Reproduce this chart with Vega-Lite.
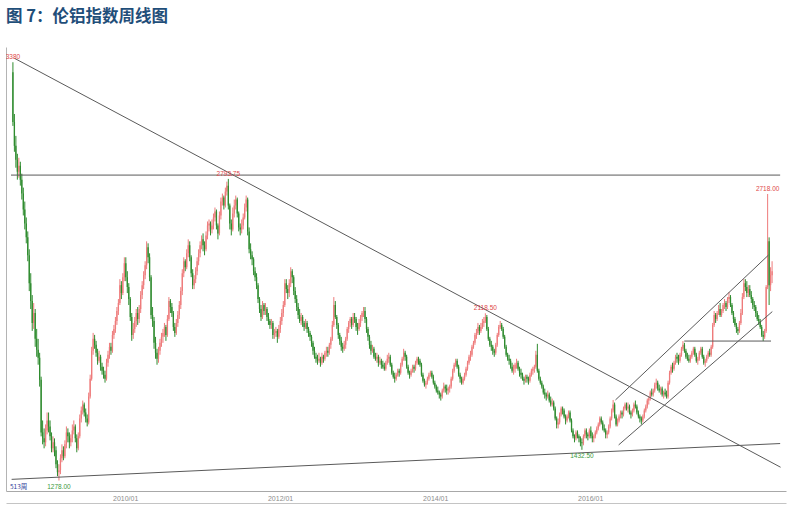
{
"$schema":"https://vega.github.io/schema/vega-lite/v6.json",
"width":780,"height":444,
"autosize":{"type":"none"},
"padding":{"left":6,"top":47,"right":7,"bottom":20},
"background":"white",
"title":{"text":"图 7：伦铝指数周线图","anchor":"start","frame":"group","fontSize":16.5,"fontWeight":"bold","color":"#1F4E79","font":"Noto Sans CJK SC","offset":22},
"config":{"view":{"stroke":null},"axis":{"grid":false}},
"resolve":{"axis":{"x":"independent"}},
"datasets":{
"k":[
{"d":"2008-07-21","o":3330,"h":3380,"l":3060,"c":3080},
{"d":"2008-07-28","o":3080,"h":3120,"l":2930,"c":2960},
{"d":"2008-08-04","o":2960,"h":3010,"l":2850,"c":2890},
{"d":"2008-08-11","o":2890,"h":2920,"l":2790,"c":2830},
{"d":"2008-08-18","o":2830,"h":2900,"l":2800,"c":2860},
{"d":"2008-08-25","o":2860,"h":2880,"l":2760,"c":2790},
{"d":"2008-09-01","o":2790,"h":2820,"l":2690,"c":2720},
{"d":"2008-09-08","o":2720,"h":2750,"l":2610,"c":2640},
{"d":"2008-09-15","o":2640,"h":2680,"l":2540,"c":2570},
{"d":"2008-09-22","o":2570,"h":2600,"l":2470,"c":2500},
{"d":"2008-09-29","o":2500,"h":2530,"l":2380,"c":2410},
{"d":"2008-10-06","o":2410,"h":2440,"l":2230,"c":2270},
{"d":"2008-10-13","o":2270,"h":2320,"l":2140,"c":2180},
{"d":"2008-10-20","o":2180,"h":2210,"l":2030,"c":2070},
{"d":"2008-10-27","o":2070,"h":2170,"l":2040,"c":2120},
{"d":"2008-11-03","o":2120,"h":2140,"l":1950,"c":1990},
{"d":"2008-11-10","o":1990,"h":2040,"l":1900,"c":1935},
{"d":"2008-11-17","o":1935,"h":1990,"l":1860,"c":1895},
{"d":"2008-11-24","o":1895,"h":1920,"l":1750,"c":1785},
{"d":"2008-12-01","o":1785,"h":1800,"l":1500,"c":1520},
{"d":"2008-12-08","o":1520,"h":1580,"l":1460,"c":1490},
{"d":"2008-12-15","o":1490,"h":1540,"l":1440,"c":1470},
{"d":"2008-12-22","o":1470,"h":1560,"l":1450,"c":1530},
{"d":"2008-12-29","o":1530,"h":1620,"l":1510,"c":1580},
{"d":"2009-01-05","o":1580,"h":1620,"l":1520,"c":1550},
{"d":"2009-01-12","o":1550,"h":1580,"l":1480,"c":1500},
{"d":"2009-01-19","o":1500,"h":1520,"l":1420,"c":1440},
{"d":"2009-01-26","o":1440,"h":1500,"l":1420,"c":1470},
{"d":"2009-02-02","o":1470,"h":1490,"l":1400,"c":1430},
{"d":"2009-02-09","o":1430,"h":1450,"l":1340,"c":1360},
{"d":"2009-02-16","o":1360,"h":1380,"l":1300,"c":1320},
{"d":"2009-02-23","o":1320,"h":1360,"l":1278,"c":1330},
{"d":"2009-03-02","o":1330,"h":1410,"l":1310,"c":1390},
{"d":"2009-03-09","o":1390,"h":1460,"l":1370,"c":1430},
{"d":"2009-03-16","o":1430,"h":1450,"l":1380,"c":1400},
{"d":"2009-03-23","o":1400,"h":1480,"l":1390,"c":1460},
{"d":"2009-03-30","o":1460,"h":1550,"l":1440,"c":1520},
{"d":"2009-04-06","o":1520,"h":1540,"l":1470,"c":1500},
{"d":"2009-04-13","o":1500,"h":1520,"l":1440,"c":1470},
{"d":"2009-04-20","o":1470,"h":1510,"l":1450,"c":1490},
{"d":"2009-04-27","o":1490,"h":1560,"l":1470,"c":1530},
{"d":"2009-05-04","o":1530,"h":1580,"l":1510,"c":1550},
{"d":"2009-05-11","o":1550,"h":1560,"l":1470,"c":1490},
{"d":"2009-05-18","o":1490,"h":1510,"l":1420,"c":1440},
{"d":"2009-05-25","o":1440,"h":1520,"l":1430,"c":1500},
{"d":"2009-06-01","o":1500,"h":1610,"l":1490,"c":1590},
{"d":"2009-06-08","o":1590,"h":1650,"l":1570,"c":1630},
{"d":"2009-06-15","o":1630,"h":1680,"l":1610,"c":1660},
{"d":"2009-06-22","o":1660,"h":1670,"l":1600,"c":1620},
{"d":"2009-06-29","o":1620,"h":1640,"l":1570,"c":1590},
{"d":"2009-07-06","o":1590,"h":1610,"l":1550,"c":1570},
{"d":"2009-07-13","o":1570,"h":1720,"l":1560,"c":1700},
{"d":"2009-07-20","o":1700,"h":1810,"l":1690,"c":1790},
{"d":"2009-07-27","o":1790,"h":1950,"l":1780,"c":1930},
{"d":"2009-08-03","o":1930,"h":2020,"l":1910,"c":1990},
{"d":"2009-08-10","o":1990,"h":2010,"l":1940,"c":1960},
{"d":"2009-08-17","o":1960,"h":1980,"l":1900,"c":1920},
{"d":"2009-08-24","o":1920,"h":1940,"l":1860,"c":1880},
{"d":"2009-08-31","o":1880,"h":1930,"l":1870,"c":1900},
{"d":"2009-09-07","o":1900,"h":1910,"l":1830,"c":1850},
{"d":"2009-09-14","o":1850,"h":1870,"l":1810,"c":1830},
{"d":"2009-09-21","o":1830,"h":1850,"l":1790,"c":1810},
{"d":"2009-09-28","o":1810,"h":1830,"l":1770,"c":1790},
{"d":"2009-10-05","o":1790,"h":1890,"l":1780,"c":1870},
{"d":"2009-10-12","o":1870,"h":1930,"l":1850,"c":1910},
{"d":"2009-10-19","o":1910,"h":1970,"l":1890,"c":1950},
{"d":"2009-10-26","o":1950,"h":1970,"l":1910,"c":1930},
{"d":"2009-11-02","o":1930,"h":2030,"l":1920,"c":2010},
{"d":"2009-11-09","o":2010,"h":2060,"l":1990,"c":2040},
{"d":"2009-11-16","o":2040,"h":2100,"l":2020,"c":2080},
{"d":"2009-11-23","o":2080,"h":2150,"l":2060,"c":2130},
{"d":"2009-11-30","o":2130,"h":2190,"l":2110,"c":2170},
{"d":"2009-12-07","o":2170,"h":2290,"l":2160,"c":2260},
{"d":"2009-12-14","o":2260,"h":2280,"l":2190,"c":2220},
{"d":"2009-12-21","o":2220,"h":2320,"l":2210,"c":2300},
{"d":"2009-12-28","o":2300,"h":2400,"l":2280,"c":2370},
{"d":"2010-01-04","o":2370,"h":2400,"l":2280,"c":2300},
{"d":"2010-01-11","o":2300,"h":2330,"l":2220,"c":2250},
{"d":"2010-01-18","o":2250,"h":2270,"l":2160,"c":2190},
{"d":"2010-01-25","o":2190,"h":2200,"l":2080,"c":2100},
{"d":"2010-02-01","o":2100,"h":2120,"l":1980,"c":2010},
{"d":"2010-02-08","o":2010,"h":2070,"l":1990,"c":2040},
{"d":"2010-02-15","o":2040,"h":2100,"l":2020,"c":2080},
{"d":"2010-02-22","o":2080,"h":2140,"l":2050,"c":2120},
{"d":"2010-03-01","o":2120,"h":2150,"l":2060,"c":2090},
{"d":"2010-03-08","o":2090,"h":2160,"l":2070,"c":2140},
{"d":"2010-03-15","o":2140,"h":2230,"l":2120,"c":2210},
{"d":"2010-03-22","o":2210,"h":2280,"l":2190,"c":2260},
{"d":"2010-03-29","o":2260,"h":2330,"l":2240,"c":2310},
{"d":"2010-04-05","o":2310,"h":2380,"l":2290,"c":2360},
{"d":"2010-04-12","o":2360,"h":2480,"l":2340,"c":2450},
{"d":"2010-04-19","o":2450,"h":2470,"l":2370,"c":2400},
{"d":"2010-04-26","o":2400,"h":2420,"l":2280,"c":2300},
{"d":"2010-05-03","o":2300,"h":2310,"l":2090,"c":2110},
{"d":"2010-05-10","o":2110,"h":2150,"l":2050,"c":2080},
{"d":"2010-05-17","o":2080,"h":2100,"l":1940,"c":1970},
{"d":"2010-05-24","o":1970,"h":2000,"l":1890,"c":1920},
{"d":"2010-05-31","o":1920,"h":1940,"l":1860,"c":1890},
{"d":"2010-06-07","o":1890,"h":1950,"l":1870,"c":1930},
{"d":"2010-06-14","o":1930,"h":1990,"l":1910,"c":1970},
{"d":"2010-06-21","o":1970,"h":2020,"l":1950,"c":2000},
{"d":"2010-06-28","o":2000,"h":2040,"l":1970,"c":2020},
{"d":"2010-07-05","o":2020,"h":2070,"l":2000,"c":2050},
{"d":"2010-07-12","o":2050,"h":2060,"l":1980,"c":2010},
{"d":"2010-07-19","o":2010,"h":2110,"l":2000,"c":2090},
{"d":"2010-07-26","o":2090,"h":2200,"l":2080,"c":2180},
{"d":"2010-08-02","o":2180,"h":2190,"l":2120,"c":2150},
{"d":"2010-08-09","o":2150,"h":2170,"l":2100,"c":2120},
{"d":"2010-08-16","o":2120,"h":2130,"l":2030,"c":2050},
{"d":"2010-08-23","o":2050,"h":2070,"l":2000,"c":2020},
{"d":"2010-08-30","o":2020,"h":2090,"l":2010,"c":2070},
{"d":"2010-09-06","o":2070,"h":2130,"l":2050,"c":2110},
{"d":"2010-09-13","o":2110,"h":2180,"l":2090,"c":2160},
{"d":"2010-09-20","o":2160,"h":2250,"l":2140,"c":2230},
{"d":"2010-09-27","o":2230,"h":2340,"l":2210,"c":2320},
{"d":"2010-10-04","o":2320,"h":2400,"l":2300,"c":2380},
{"d":"2010-10-11","o":2380,"h":2390,"l":2330,"c":2350},
{"d":"2010-10-18","o":2350,"h":2440,"l":2340,"c":2420},
{"d":"2010-10-25","o":2420,"h":2490,"l":2400,"c":2460},
{"d":"2010-11-01","o":2460,"h":2480,"l":2380,"c":2400},
{"d":"2010-11-08","o":2400,"h":2410,"l":2300,"c":2320},
{"d":"2010-11-15","o":2320,"h":2340,"l":2240,"c":2260},
{"d":"2010-11-22","o":2260,"h":2310,"l":2240,"c":2290},
{"d":"2010-11-29","o":2290,"h":2350,"l":2270,"c":2330},
{"d":"2010-12-06","o":2330,"h":2400,"l":2310,"c":2380},
{"d":"2010-12-13","o":2380,"h":2440,"l":2360,"c":2420},
{"d":"2010-12-20","o":2420,"h":2480,"l":2400,"c":2460},
{"d":"2010-12-27","o":2460,"h":2510,"l":2440,"c":2490},
{"d":"2011-01-03","o":2490,"h":2520,"l":2430,"c":2460},
{"d":"2011-01-10","o":2460,"h":2480,"l":2410,"c":2440},
{"d":"2011-01-17","o":2440,"h":2530,"l":2430,"c":2510},
{"d":"2011-01-24","o":2510,"h":2580,"l":2490,"c":2560},
{"d":"2011-01-31","o":2560,"h":2590,"l":2530,"c":2570},
{"d":"2011-02-07","o":2570,"h":2580,"l":2510,"c":2540},
{"d":"2011-02-14","o":2540,"h":2590,"l":2520,"c":2560},
{"d":"2011-02-21","o":2560,"h":2620,"l":2540,"c":2600},
{"d":"2011-02-28","o":2600,"h":2650,"l":2580,"c":2630},
{"d":"2011-03-07","o":2630,"h":2640,"l":2540,"c":2560},
{"d":"2011-03-14","o":2560,"h":2570,"l":2490,"c":2520},
{"d":"2011-03-21","o":2520,"h":2630,"l":2510,"c":2610},
{"d":"2011-03-28","o":2610,"h":2700,"l":2590,"c":2680},
{"d":"2011-04-04","o":2680,"h":2720,"l":2660,"c":2700},
{"d":"2011-04-11","o":2700,"h":2710,"l":2640,"c":2660},
{"d":"2011-04-18","o":2660,"h":2750,"l":2650,"c":2730},
{"d":"2011-04-25","o":2730,"h":2780,"l":2710,"c":2760},
{"d":"2011-05-02","o":2760,"h":2793.75,"l":2640,"c":2660},
{"d":"2011-05-09","o":2660,"h":2670,"l":2540,"c":2570},
{"d":"2011-05-16","o":2570,"h":2590,"l":2510,"c":2540},
{"d":"2011-05-23","o":2540,"h":2650,"l":2530,"c":2620},
{"d":"2011-05-30","o":2620,"h":2690,"l":2600,"c":2660},
{"d":"2011-06-06","o":2660,"h":2710,"l":2640,"c":2690},
{"d":"2011-06-13","o":2690,"h":2700,"l":2600,"c":2620},
{"d":"2011-06-20","o":2620,"h":2630,"l":2530,"c":2550},
{"d":"2011-06-27","o":2550,"h":2570,"l":2510,"c":2540},
{"d":"2011-07-04","o":2540,"h":2590,"l":2520,"c":2560},
{"d":"2011-07-11","o":2560,"h":2620,"l":2540,"c":2600},
{"d":"2011-07-18","o":2600,"h":2670,"l":2590,"c":2650},
{"d":"2011-07-25","o":2650,"h":2710,"l":2630,"c":2690},
{"d":"2011-08-01","o":2690,"h":2700,"l":2510,"c":2530},
{"d":"2011-08-08","o":2530,"h":2550,"l":2420,"c":2440},
{"d":"2011-08-15","o":2440,"h":2470,"l":2390,"c":2410},
{"d":"2011-08-22","o":2410,"h":2430,"l":2360,"c":2390},
{"d":"2011-08-29","o":2390,"h":2400,"l":2310,"c":2330},
{"d":"2011-09-05","o":2330,"h":2350,"l":2280,"c":2300},
{"d":"2011-09-12","o":2300,"h":2320,"l":2240,"c":2260},
{"d":"2011-09-19","o":2260,"h":2270,"l":2170,"c":2190},
{"d":"2011-09-26","o":2190,"h":2200,"l":2120,"c":2140},
{"d":"2011-10-03","o":2140,"h":2160,"l":2080,"c":2100},
{"d":"2011-10-10","o":2100,"h":2180,"l":2090,"c":2160},
{"d":"2011-10-17","o":2160,"h":2170,"l":2110,"c":2130},
{"d":"2011-10-24","o":2130,"h":2170,"l":2110,"c":2140},
{"d":"2011-10-31","o":2140,"h":2150,"l":2080,"c":2100},
{"d":"2011-11-07","o":2100,"h":2120,"l":2060,"c":2080},
{"d":"2011-11-14","o":2080,"h":2090,"l":2040,"c":2060},
{"d":"2011-11-21","o":2060,"h":2090,"l":2040,"c":2070},
{"d":"2011-11-28","o":2070,"h":2080,"l":1990,"c":2010},
{"d":"2011-12-05","o":2010,"h":2040,"l":1990,"c":2020},
{"d":"2011-12-12","o":2020,"h":2050,"l":2000,"c":2030},
{"d":"2011-12-19","o":2030,"h":2040,"l":1970,"c":2000},
{"d":"2011-12-26","o":2000,"h":2060,"l":1990,"c":2040},
{"d":"2012-01-02","o":2040,"h":2100,"l":2020,"c":2080},
{"d":"2012-01-09","o":2080,"h":2140,"l":2060,"c":2120},
{"d":"2012-01-16","o":2120,"h":2180,"l":2100,"c":2160},
{"d":"2012-01-23","o":2160,"h":2290,"l":2150,"c":2270},
{"d":"2012-01-30","o":2270,"h":2290,"l":2220,"c":2240},
{"d":"2012-02-06","o":2240,"h":2260,"l":2190,"c":2220},
{"d":"2012-02-13","o":2220,"h":2290,"l":2200,"c":2270},
{"d":"2012-02-20","o":2270,"h":2350,"l":2250,"c":2330},
{"d":"2012-02-27","o":2330,"h":2340,"l":2270,"c":2300},
{"d":"2012-03-05","o":2300,"h":2310,"l":2210,"c":2230},
{"d":"2012-03-12","o":2230,"h":2250,"l":2170,"c":2190},
{"d":"2012-03-19","o":2190,"h":2210,"l":2130,"c":2150},
{"d":"2012-03-26","o":2150,"h":2170,"l":2090,"c":2110},
{"d":"2012-04-02","o":2110,"h":2140,"l":2070,"c":2080},
{"d":"2012-04-09","o":2080,"h":2120,"l":2060,"c":2100},
{"d":"2012-04-16","o":2100,"h":2110,"l":2050,"c":2070},
{"d":"2012-04-23","o":2070,"h":2080,"l":2030,"c":2050},
{"d":"2012-04-30","o":2050,"h":2090,"l":2040,"c":2070},
{"d":"2012-05-07","o":2070,"h":2080,"l":2020,"c":2040},
{"d":"2012-05-14","o":2040,"h":2050,"l":2000,"c":2020},
{"d":"2012-05-21","o":2020,"h":2030,"l":1980,"c":2000},
{"d":"2012-05-28","o":2000,"h":2010,"l":1950,"c":1970},
{"d":"2012-06-04","o":1970,"h":1980,"l":1910,"c":1930},
{"d":"2012-06-11","o":1930,"h":1950,"l":1890,"c":1900},
{"d":"2012-06-18","o":1900,"h":1920,"l":1870,"c":1890},
{"d":"2012-06-25","o":1890,"h":1910,"l":1860,"c":1880},
{"d":"2012-07-02","o":1880,"h":1920,"l":1870,"c":1890},
{"d":"2012-07-09","o":1890,"h":1900,"l":1850,"c":1870},
{"d":"2012-07-16","o":1870,"h":1920,"l":1860,"c":1900},
{"d":"2012-07-23","o":1900,"h":1910,"l":1870,"c":1890},
{"d":"2012-07-30","o":1890,"h":1930,"l":1880,"c":1920},
{"d":"2012-08-06","o":1920,"h":1950,"l":1900,"c":1930},
{"d":"2012-08-13","o":1930,"h":1950,"l":1900,"c":1920},
{"d":"2012-08-20","o":1920,"h":1970,"l":1910,"c":1960},
{"d":"2012-08-27","o":1960,"h":2000,"l":1940,"c":1990},
{"d":"2012-09-03","o":1990,"h":2080,"l":1980,"c":2060},
{"d":"2012-09-10","o":2060,"h":2200,"l":2050,"c":2160},
{"d":"2012-09-17","o":2160,"h":2180,"l":2090,"c":2100},
{"d":"2012-09-24","o":2100,"h":2110,"l":2040,"c":2060},
{"d":"2012-10-01","o":2060,"h":2070,"l":1990,"c":2010},
{"d":"2012-10-08","o":2010,"h":2020,"l":1960,"c":1980},
{"d":"2012-10-15","o":1980,"h":2000,"l":1930,"c":1950},
{"d":"2012-10-22","o":1950,"h":1970,"l":1920,"c":1940},
{"d":"2012-10-29","o":1940,"h":1980,"l":1930,"c":1960},
{"d":"2012-11-05","o":1960,"h":2000,"l":1940,"c":1990},
{"d":"2012-11-12","o":1990,"h":2050,"l":1980,"c":2040},
{"d":"2012-11-19","o":2040,"h":2080,"l":2020,"c":2070},
{"d":"2012-11-26","o":2070,"h":2100,"l":2050,"c":2090},
{"d":"2012-12-03","o":2090,"h":2100,"l":2040,"c":2060},
{"d":"2012-12-10","o":2060,"h":2120,"l":2050,"c":2100},
{"d":"2012-12-17","o":2100,"h":2120,"l":2070,"c":2090},
{"d":"2012-12-24","o":2090,"h":2100,"l":2030,"c":2050},
{"d":"2012-12-31","o":2050,"h":2070,"l":2010,"c":2040},
{"d":"2013-01-07","o":2040,"h":2090,"l":2030,"c":2070},
{"d":"2013-01-14","o":2070,"h":2110,"l":2050,"c":2100},
{"d":"2013-01-21","o":2100,"h":2130,"l":2080,"c":2120},
{"d":"2013-01-28","o":2120,"h":2150,"l":2100,"c":2130},
{"d":"2013-02-04","o":2130,"h":2150,"l":2070,"c":2090},
{"d":"2013-02-11","o":2090,"h":2100,"l":2020,"c":2040},
{"d":"2013-02-18","o":2040,"h":2050,"l":1980,"c":2000},
{"d":"2013-02-25","o":2000,"h":2010,"l":1940,"c":1960},
{"d":"2013-03-04","o":1960,"h":1980,"l":1910,"c":1930},
{"d":"2013-03-11","o":1930,"h":1960,"l":1920,"c":1940},
{"d":"2013-03-18","o":1940,"h":1950,"l":1890,"c":1900},
{"d":"2013-03-25","o":1900,"h":1920,"l":1880,"c":1890},
{"d":"2013-04-01","o":1890,"h":1920,"l":1870,"c":1900},
{"d":"2013-04-08","o":1900,"h":1910,"l":1850,"c":1870},
{"d":"2013-04-15","o":1870,"h":1900,"l":1860,"c":1880},
{"d":"2013-04-22","o":1880,"h":1890,"l":1840,"c":1860},
{"d":"2013-04-29","o":1860,"h":1880,"l":1840,"c":1850},
{"d":"2013-05-06","o":1850,"h":1870,"l":1830,"c":1840},
{"d":"2013-05-13","o":1840,"h":1880,"l":1830,"c":1870},
{"d":"2013-05-20","o":1870,"h":1910,"l":1860,"c":1890},
{"d":"2013-05-27","o":1890,"h":1920,"l":1870,"c":1900},
{"d":"2013-06-03","o":1900,"h":1910,"l":1850,"c":1860},
{"d":"2013-06-10","o":1860,"h":1870,"l":1810,"c":1820},
{"d":"2013-06-17","o":1820,"h":1830,"l":1790,"c":1800},
{"d":"2013-06-24","o":1800,"h":1820,"l":1770,"c":1790},
{"d":"2013-07-01","o":1790,"h":1820,"l":1780,"c":1810},
{"d":"2013-07-08","o":1810,"h":1840,"l":1800,"c":1830},
{"d":"2013-07-15","o":1830,"h":1840,"l":1800,"c":1820},
{"d":"2013-07-22","o":1820,"h":1870,"l":1810,"c":1860},
{"d":"2013-07-29","o":1860,"h":1900,"l":1850,"c":1890},
{"d":"2013-08-05","o":1890,"h":1940,"l":1880,"c":1920},
{"d":"2013-08-12","o":1920,"h":1930,"l":1880,"c":1900},
{"d":"2013-08-19","o":1900,"h":1910,"l":1840,"c":1850},
{"d":"2013-08-26","o":1850,"h":1860,"l":1810,"c":1820},
{"d":"2013-09-02","o":1820,"h":1830,"l":1790,"c":1810},
{"d":"2013-09-09","o":1810,"h":1840,"l":1800,"c":1830},
{"d":"2013-09-16","o":1830,"h":1860,"l":1820,"c":1850},
{"d":"2013-09-23","o":1850,"h":1860,"l":1820,"c":1840},
{"d":"2013-09-30","o":1840,"h":1880,"l":1830,"c":1870},
{"d":"2013-10-07","o":1870,"h":1900,"l":1860,"c":1890},
{"d":"2013-10-14","o":1890,"h":1900,"l":1860,"c":1880},
{"d":"2013-10-21","o":1880,"h":1890,"l":1850,"c":1860},
{"d":"2013-10-28","o":1860,"h":1870,"l":1800,"c":1810},
{"d":"2013-11-04","o":1810,"h":1820,"l":1770,"c":1780},
{"d":"2013-11-11","o":1780,"h":1790,"l":1750,"c":1760},
{"d":"2013-11-18","o":1760,"h":1780,"l":1740,"c":1770},
{"d":"2013-11-25","o":1770,"h":1800,"l":1760,"c":1790},
{"d":"2013-12-02","o":1790,"h":1820,"l":1780,"c":1810},
{"d":"2013-12-09","o":1810,"h":1830,"l":1800,"c":1820},
{"d":"2013-12-16","o":1820,"h":1830,"l":1790,"c":1800},
{"d":"2013-12-23","o":1800,"h":1810,"l":1760,"c":1770},
{"d":"2013-12-30","o":1770,"h":1780,"l":1740,"c":1750},
{"d":"2014-01-06","o":1750,"h":1760,"l":1720,"c":1730},
{"d":"2014-01-13","o":1730,"h":1750,"l":1710,"c":1720},
{"d":"2014-01-20","o":1720,"h":1730,"l":1690,"c":1710},
{"d":"2014-01-27","o":1710,"h":1720,"l":1680,"c":1700},
{"d":"2014-02-03","o":1700,"h":1740,"l":1690,"c":1730},
{"d":"2014-02-10","o":1730,"h":1770,"l":1720,"c":1750},
{"d":"2014-02-17","o":1750,"h":1760,"l":1720,"c":1740},
{"d":"2014-02-24","o":1740,"h":1760,"l":1710,"c":1730},
{"d":"2014-03-03","o":1730,"h":1750,"l":1710,"c":1740},
{"d":"2014-03-10","o":1740,"h":1760,"l":1720,"c":1750},
{"d":"2014-03-17","o":1750,"h":1800,"l":1740,"c":1790},
{"d":"2014-03-24","o":1790,"h":1840,"l":1780,"c":1830},
{"d":"2014-03-31","o":1830,"h":1870,"l":1820,"c":1860},
{"d":"2014-04-07","o":1860,"h":1890,"l":1850,"c":1880},
{"d":"2014-04-14","o":1880,"h":1890,"l":1840,"c":1850},
{"d":"2014-04-21","o":1850,"h":1860,"l":1800,"c":1810},
{"d":"2014-04-28","o":1810,"h":1820,"l":1770,"c":1790},
{"d":"2014-05-05","o":1790,"h":1800,"l":1760,"c":1770},
{"d":"2014-05-12","o":1770,"h":1800,"l":1760,"c":1790},
{"d":"2014-05-19","o":1790,"h":1820,"l":1780,"c":1810},
{"d":"2014-05-26","o":1810,"h":1850,"l":1800,"c":1840},
{"d":"2014-06-02","o":1840,"h":1880,"l":1830,"c":1870},
{"d":"2014-06-09","o":1870,"h":1910,"l":1860,"c":1900},
{"d":"2014-06-16","o":1900,"h":1930,"l":1880,"c":1910},
{"d":"2014-06-23","o":1910,"h":1960,"l":1900,"c":1950},
{"d":"2014-06-30","o":1950,"h":1980,"l":1940,"c":1970},
{"d":"2014-07-07","o":1970,"h":2020,"l":1960,"c":2010},
{"d":"2014-07-14","o":2010,"h":2040,"l":1990,"c":2020},
{"d":"2014-07-21","o":2020,"h":2070,"l":2010,"c":2050},
{"d":"2014-07-28","o":2050,"h":2060,"l":2010,"c":2030},
{"d":"2014-08-04","o":2030,"h":2070,"l":2020,"c":2050},
{"d":"2014-08-11","o":2050,"h":2090,"l":2040,"c":2070},
{"d":"2014-08-18","o":2070,"h":2100,"l":2050,"c":2080},
{"d":"2014-08-25","o":2080,"h":2118.5,"l":2070,"c":2100},
{"d":"2014-09-01","o":2100,"h":2110,"l":2030,"c":2040},
{"d":"2014-09-08","o":2040,"h":2050,"l":1980,"c":1990},
{"d":"2014-09-15","o":1990,"h":2000,"l":1950,"c":1960},
{"d":"2014-09-22","o":1960,"h":1980,"l":1930,"c":1950},
{"d":"2014-09-29","o":1950,"h":1960,"l":1910,"c":1930},
{"d":"2014-10-06","o":1930,"h":1940,"l":1900,"c":1920},
{"d":"2014-10-13","o":1920,"h":1970,"l":1910,"c":1960},
{"d":"2014-10-20","o":1960,"h":2020,"l":1950,"c":2010},
{"d":"2014-10-27","o":2010,"h":2060,"l":2000,"c":2050},
{"d":"2014-11-03","o":2050,"h":2080,"l":2040,"c":2060},
{"d":"2014-11-10","o":2060,"h":2070,"l":2030,"c":2040},
{"d":"2014-11-17","o":2040,"h":2050,"l":1990,"c":2000},
{"d":"2014-11-24","o":2000,"h":2010,"l":1940,"c":1950},
{"d":"2014-12-01","o":1950,"h":1960,"l":1900,"c":1910},
{"d":"2014-12-08","o":1910,"h":1920,"l":1880,"c":1890},
{"d":"2014-12-15","o":1890,"h":1910,"l":1860,"c":1880},
{"d":"2014-12-22","o":1880,"h":1890,"l":1840,"c":1850},
{"d":"2014-12-29","o":1850,"h":1870,"l":1820,"c":1830},
{"d":"2015-01-05","o":1830,"h":1860,"l":1810,"c":1840},
{"d":"2015-01-12","o":1840,"h":1870,"l":1820,"c":1860},
{"d":"2015-01-19","o":1860,"h":1890,"l":1840,"c":1870},
{"d":"2015-01-26","o":1870,"h":1880,"l":1830,"c":1840},
{"d":"2015-02-02","o":1840,"h":1850,"l":1800,"c":1820},
{"d":"2015-02-09","o":1820,"h":1840,"l":1790,"c":1810},
{"d":"2015-02-16","o":1810,"h":1820,"l":1780,"c":1790},
{"d":"2015-02-23","o":1790,"h":1800,"l":1760,"c":1780},
{"d":"2015-03-02","o":1780,"h":1810,"l":1770,"c":1800},
{"d":"2015-03-09","o":1800,"h":1810,"l":1770,"c":1790},
{"d":"2015-03-16","o":1790,"h":1800,"l":1760,"c":1780},
{"d":"2015-03-23","o":1780,"h":1820,"l":1770,"c":1810},
{"d":"2015-03-30","o":1810,"h":1840,"l":1800,"c":1830},
{"d":"2015-04-06","o":1830,"h":1850,"l":1810,"c":1840},
{"d":"2015-04-13","o":1840,"h":1860,"l":1820,"c":1850},
{"d":"2015-04-20","o":1850,"h":1930,"l":1840,"c":1910},
{"d":"2015-04-27","o":1910,"h":1965,"l":1820,"c":1830},
{"d":"2015-05-04","o":1830,"h":1840,"l":1780,"c":1790},
{"d":"2015-05-11","o":1790,"h":1800,"l":1760,"c":1770},
{"d":"2015-05-18","o":1770,"h":1780,"l":1740,"c":1750},
{"d":"2015-05-25","o":1750,"h":1760,"l":1710,"c":1720},
{"d":"2015-06-01","o":1720,"h":1740,"l":1690,"c":1710},
{"d":"2015-06-08","o":1710,"h":1720,"l":1680,"c":1700},
{"d":"2015-06-15","o":1700,"h":1730,"l":1690,"c":1710},
{"d":"2015-06-22","o":1710,"h":1720,"l":1670,"c":1680},
{"d":"2015-06-29","o":1680,"h":1700,"l":1650,"c":1660},
{"d":"2015-07-06","o":1660,"h":1690,"l":1650,"c":1670},
{"d":"2015-07-13","o":1670,"h":1680,"l":1630,"c":1640},
{"d":"2015-07-20","o":1640,"h":1650,"l":1580,"c":1590},
{"d":"2015-07-27","o":1590,"h":1600,"l":1540,"c":1560},
{"d":"2015-08-03","o":1560,"h":1590,"l":1540,"c":1570},
{"d":"2015-08-10","o":1570,"h":1620,"l":1560,"c":1610},
{"d":"2015-08-17","o":1610,"h":1650,"l":1600,"c":1640},
{"d":"2015-08-24","o":1640,"h":1650,"l":1610,"c":1630},
{"d":"2015-08-31","o":1630,"h":1640,"l":1590,"c":1600},
{"d":"2015-09-07","o":1600,"h":1610,"l":1560,"c":1580},
{"d":"2015-09-14","o":1580,"h":1610,"l":1570,"c":1600},
{"d":"2015-09-21","o":1600,"h":1630,"l":1590,"c":1620},
{"d":"2015-09-28","o":1620,"h":1630,"l":1570,"c":1580},
{"d":"2015-10-05","o":1580,"h":1590,"l":1520,"c":1530},
{"d":"2015-10-12","o":1530,"h":1540,"l":1490,"c":1500},
{"d":"2015-10-19","o":1500,"h":1510,"l":1470,"c":1490},
{"d":"2015-10-26","o":1490,"h":1530,"l":1480,"c":1520},
{"d":"2015-11-02","o":1520,"h":1530,"l":1490,"c":1500},
{"d":"2015-11-09","o":1500,"h":1510,"l":1470,"c":1490},
{"d":"2015-11-16","o":1490,"h":1500,"l":1450,"c":1470},
{"d":"2015-11-23","o":1470,"h":1490,"l":1432.5,"c":1465},
{"d":"2015-11-30","o":1465,"h":1510,"l":1455,"c":1500},
{"d":"2015-12-07","o":1500,"h":1540,"l":1490,"c":1530},
{"d":"2015-12-14","o":1530,"h":1540,"l":1490,"c":1510},
{"d":"2015-12-21","o":1510,"h":1520,"l":1480,"c":1500},
{"d":"2015-12-28","o":1500,"h":1540,"l":1490,"c":1530},
{"d":"2016-01-04","o":1530,"h":1550,"l":1490,"c":1500},
{"d":"2016-01-11","o":1500,"h":1520,"l":1470,"c":1490},
{"d":"2016-01-18","o":1490,"h":1510,"l":1470,"c":1500},
{"d":"2016-01-25","o":1500,"h":1530,"l":1490,"c":1520},
{"d":"2016-02-01","o":1520,"h":1550,"l":1510,"c":1540},
{"d":"2016-02-08","o":1540,"h":1570,"l":1530,"c":1560},
{"d":"2016-02-15","o":1560,"h":1600,"l":1550,"c":1590},
{"d":"2016-02-22","o":1590,"h":1600,"l":1560,"c":1570},
{"d":"2016-02-29","o":1570,"h":1580,"l":1530,"c":1540},
{"d":"2016-03-07","o":1540,"h":1560,"l":1520,"c":1530},
{"d":"2016-03-14","o":1530,"h":1540,"l":1490,"c":1510},
{"d":"2016-03-21","o":1510,"h":1530,"l":1490,"c":1520},
{"d":"2016-03-28","o":1520,"h":1560,"l":1510,"c":1550},
{"d":"2016-04-04","o":1550,"h":1600,"l":1540,"c":1590},
{"d":"2016-04-11","o":1590,"h":1640,"l":1580,"c":1630},
{"d":"2016-04-18","o":1630,"h":1683,"l":1620,"c":1660},
{"d":"2016-04-25","o":1660,"h":1670,"l":1590,"c":1600},
{"d":"2016-05-02","o":1600,"h":1610,"l":1550,"c":1560},
{"d":"2016-05-09","o":1560,"h":1590,"l":1550,"c":1580},
{"d":"2016-05-16","o":1580,"h":1610,"l":1570,"c":1600},
{"d":"2016-05-23","o":1600,"h":1630,"l":1590,"c":1620},
{"d":"2016-05-30","o":1620,"h":1630,"l":1590,"c":1610},
{"d":"2016-06-06","o":1610,"h":1650,"l":1600,"c":1640},
{"d":"2016-06-13","o":1640,"h":1670,"l":1630,"c":1660},
{"d":"2016-06-20","o":1660,"h":1670,"l":1630,"c":1640},
{"d":"2016-06-27","o":1640,"h":1670,"l":1620,"c":1650},
{"d":"2016-07-04","o":1650,"h":1660,"l":1610,"c":1620},
{"d":"2016-07-11","o":1620,"h":1630,"l":1590,"c":1610},
{"d":"2016-07-18","o":1610,"h":1640,"l":1600,"c":1630},
{"d":"2016-07-25","o":1630,"h":1670,"l":1620,"c":1660},
{"d":"2016-08-01","o":1660,"h":1680,"l":1640,"c":1650},
{"d":"2016-08-08","o":1650,"h":1660,"l":1610,"c":1620},
{"d":"2016-08-15","o":1620,"h":1630,"l":1590,"c":1600},
{"d":"2016-08-22","o":1600,"h":1610,"l":1570,"c":1590},
{"d":"2016-08-29","o":1590,"h":1600,"l":1560,"c":1580},
{"d":"2016-09-05","o":1580,"h":1610,"l":1570,"c":1600},
{"d":"2016-09-12","o":1600,"h":1640,"l":1590,"c":1630},
{"d":"2016-09-19","o":1630,"h":1660,"l":1620,"c":1650},
{"d":"2016-09-26","o":1650,"h":1690,"l":1640,"c":1680},
{"d":"2016-10-03","o":1680,"h":1700,"l":1660,"c":1690},
{"d":"2016-10-10","o":1690,"h":1730,"l":1680,"c":1720},
{"d":"2016-10-17","o":1720,"h":1740,"l":1700,"c":1710},
{"d":"2016-10-24","o":1710,"h":1740,"l":1700,"c":1730},
{"d":"2016-10-31","o":1730,"h":1770,"l":1720,"c":1760},
{"d":"2016-11-07","o":1760,"h":1790,"l":1740,"c":1770},
{"d":"2016-11-14","o":1770,"h":1780,"l":1730,"c":1740},
{"d":"2016-11-21","o":1740,"h":1760,"l":1720,"c":1730},
{"d":"2016-11-28","o":1730,"h":1750,"l":1710,"c":1740},
{"d":"2016-12-05","o":1740,"h":1750,"l":1700,"c":1710},
{"d":"2016-12-12","o":1710,"h":1730,"l":1690,"c":1720},
{"d":"2016-12-19","o":1720,"h":1740,"l":1700,"c":1710},
{"d":"2016-12-26","o":1710,"h":1730,"l":1690,"c":1700},
{"d":"2017-01-02","o":1700,"h":1780,"l":1690,"c":1770},
{"d":"2017-01-09","o":1770,"h":1830,"l":1760,"c":1820},
{"d":"2017-01-16","o":1820,"h":1860,"l":1810,"c":1850},
{"d":"2017-01-23","o":1850,"h":1870,"l":1820,"c":1840},
{"d":"2017-01-30","o":1840,"h":1880,"l":1830,"c":1870},
{"d":"2017-02-06","o":1870,"h":1910,"l":1860,"c":1900},
{"d":"2017-02-13","o":1900,"h":1920,"l":1870,"c":1890},
{"d":"2017-02-20","o":1890,"h":1910,"l":1860,"c":1880},
{"d":"2017-02-27","o":1880,"h":1920,"l":1870,"c":1910},
{"d":"2017-03-06","o":1910,"h":1950,"l":1900,"c":1940},
{"d":"2017-03-13","o":1940,"h":1979,"l":1930,"c":1960},
{"d":"2017-03-20","o":1960,"h":1970,"l":1920,"c":1930},
{"d":"2017-03-27","o":1930,"h":1940,"l":1890,"c":1900},
{"d":"2017-04-03","o":1900,"h":1920,"l":1880,"c":1890},
{"d":"2017-04-10","o":1890,"h":1910,"l":1870,"c":1880},
{"d":"2017-04-17","o":1880,"h":1910,"l":1870,"c":1900},
{"d":"2017-04-24","o":1900,"h":1930,"l":1890,"c":1920},
{"d":"2017-05-01","o":1920,"h":1950,"l":1910,"c":1940},
{"d":"2017-05-08","o":1940,"h":1950,"l":1900,"c":1910},
{"d":"2017-05-15","o":1910,"h":1920,"l":1870,"c":1880},
{"d":"2017-05-22","o":1880,"h":1900,"l":1860,"c":1890},
{"d":"2017-05-29","o":1890,"h":1930,"l":1880,"c":1920},
{"d":"2017-06-05","o":1920,"h":1950,"l":1910,"c":1940},
{"d":"2017-06-12","o":1940,"h":1950,"l":1890,"c":1900},
{"d":"2017-06-19","o":1900,"h":1910,"l":1860,"c":1870},
{"d":"2017-06-26","o":1870,"h":1890,"l":1850,"c":1880},
{"d":"2017-07-03","o":1880,"h":1910,"l":1870,"c":1900},
{"d":"2017-07-10","o":1900,"h":1930,"l":1890,"c":1920},
{"d":"2017-07-17","o":1920,"h":1940,"l":1900,"c":1910},
{"d":"2017-07-24","o":1910,"h":1960,"l":1900,"c":1950},
{"d":"2017-07-31","o":1950,"h":2070,"l":1940,"c":2060},
{"d":"2017-08-07","o":2060,"h":2130,"l":2050,"c":2110},
{"d":"2017-08-14","o":2110,"h":2120,"l":2070,"c":2090},
{"d":"2017-08-21","o":2090,"h":2130,"l":2080,"c":2120},
{"d":"2017-08-28","o":2120,"h":2160,"l":2110,"c":2140},
{"d":"2017-09-04","o":2140,"h":2170,"l":2100,"c":2110},
{"d":"2017-09-11","o":2110,"h":2140,"l":2100,"c":2130},
{"d":"2017-09-18","o":2130,"h":2170,"l":2120,"c":2160},
{"d":"2017-09-25","o":2160,"h":2190,"l":2140,"c":2170},
{"d":"2017-10-02","o":2170,"h":2180,"l":2130,"c":2150},
{"d":"2017-10-09","o":2150,"h":2200,"l":2140,"c":2190},
{"d":"2017-10-16","o":2190,"h":2225,"l":2170,"c":2200},
{"d":"2017-10-23","o":2200,"h":2210,"l":2150,"c":2160},
{"d":"2017-10-30","o":2160,"h":2170,"l":2110,"c":2120},
{"d":"2017-11-06","o":2120,"h":2130,"l":2070,"c":2090},
{"d":"2017-11-13","o":2090,"h":2100,"l":2050,"c":2060},
{"d":"2017-11-20","o":2060,"h":2070,"l":2020,"c":2040},
{"d":"2017-11-27","o":2040,"h":2050,"l":2010,"c":2030},
{"d":"2017-12-04","o":2030,"h":2080,"l":2020,"c":2070},
{"d":"2017-12-11","o":2070,"h":2140,"l":2060,"c":2120},
{"d":"2017-12-18","o":2120,"h":2220,"l":2110,"c":2200},
{"d":"2017-12-25","o":2200,"h":2290,"l":2190,"c":2270},
{"d":"2018-01-01","o":2270,"h":2290,"l":2230,"c":2250},
{"d":"2018-01-08","o":2250,"h":2280,"l":2200,"c":2220},
{"d":"2018-01-15","o":2220,"h":2260,"l":2200,"c":2240},
{"d":"2018-01-22","o":2240,"h":2260,"l":2200,"c":2210},
{"d":"2018-01-29","o":2210,"h":2230,"l":2170,"c":2190},
{"d":"2018-02-05","o":2190,"h":2200,"l":2140,"c":2160},
{"d":"2018-02-12","o":2160,"h":2180,"l":2130,"c":2150},
{"d":"2018-02-19","o":2150,"h":2160,"l":2100,"c":2120},
{"d":"2018-02-26","o":2120,"h":2130,"l":2080,"c":2090},
{"d":"2018-03-05","o":2090,"h":2110,"l":2060,"c":2080},
{"d":"2018-03-12","o":2080,"h":2090,"l":2040,"c":2050},
{"d":"2018-03-19","o":2050,"h":2060,"l":2000,"c":2010},
{"d":"2018-03-26","o":2010,"h":2030,"l":1979,"c":2000},
{"d":"2018-04-02","o":2000,"h":2040,"l":1990,"c":2030},
{"d":"2018-04-09","o":2030,"h":2260,"l":2020,"c":2250},
{"d":"2018-04-16","o":2250,"h":2718,"l":2240,"c":2480},
{"d":"2018-04-23","o":2480,"h":2500,"l":2160,"c":2260},
{"d":"2018-04-30","o":2260,"h":2350,"l":2230,"c":2310},
{"d":"2018-05-07","o":2310,"h":2380,"l":2270,"c":2330}
],
"ln":[
{"a":"2008-07-28","pa":3400,"b":"2018-06-16","pb":1345},
{"a":"2008-07-12","pa":2813,"b":"2018-06-14","pb":2813},
{"a":"2008-07-15","pa":1284,"b":"2018-06-14","pb":1464},
{"a":"2016-04-29","pa":1683,"b":"2018-04-20","pb":2411},
{"a":"2016-05-14","pa":1457,"b":"2018-05-08","pb":2127},
{"a":"2017-03-19","pa":1979,"b":"2018-05-02","pb":1979}
],
"lb":[
{"d":"2008-07-21","p":3380,"t":"3380","k":"hi"},
{"d":"2011-05-02","p":2793.75,"t":"2793.75","k":"hi"},
{"d":"2014-08-25","p":2118.5,"t":"2118.50","k":"hi"},
{"d":"2018-04-16","p":2718,"t":"2718.00","k":"hi"},
{"d":"2009-02-23","p":1278,"t":"1278.00","k":"lo"},
{"d":"2015-11-23","p":1432.5,"t":"1432.50","k":"lo"},
{"d":"2008-07-12","p":1278,"t":"513周","k":"n"}
]
},
"layer":[
{"data":{"name":"k"},"mark":{"type":"rule","strokeWidth":1},
"encoding":{
"x":{"field":"d","type":"temporal","scale":{"type":"utc","domain":[{"year":2008,"month":7,"date":12,"utc":true},{"year":2018,"month":6,"date":18,"utc":true}]},
"axis":{"orient":"bottom","title":null,"values":[{"year":2010,"month":1,"date":1,"utc":true},{"year":2012,"month":1,"date":1,"utc":true},{"year":2014,"month":1,"date":1,"utc":true},{"year":2016,"month":1,"date":1,"utc":true}],"format":"%Y/%m","ticks":false,"grid":false,"labelFontSize":7,"labelFont":"Liberation Sans","labelColor":"#8c8c8c","labelPadding":3,"domainColor":"#a8a8a8","domainWidth":1}},
"y":{"field":"l","type":"quantitative","scale":{"domain":[1225.5,3456.6],"zero":false,"nice":false},"axis":{"orient":"left","title":null,"labels":false,"ticks":false,"grid":false,"domainColor":"#b4b4b4"}},
"y2":{"field":"h"},
"color":{"condition":{"test":"datum.c >= datum.o","value":"#EE7B7B"},"value":"#2E8B2E"}
}},
{"data":{"name":"k"},"mark":{"type":"bar","size":1.3},
"encoding":{
"x":{"field":"d","type":"temporal","scale":{"type":"utc","domain":[{"year":2008,"month":7,"date":12,"utc":true},{"year":2018,"month":6,"date":18,"utc":true}]},"axis":null},
"y":{"field":"o","type":"quantitative","scale":{"domain":[1225.5,3456.6],"zero":false,"nice":false},"axis":{"orient":"left","title":null,"labels":false,"ticks":false,"grid":false,"domainColor":"#b4b4b4"}},
"y2":{"field":"c"},
"color":{"condition":{"test":"datum.c >= datum.o","value":"#EE7B7B"},"value":"#2E8B2E"}
}},
{"data":{"name":"ln"},"mark":{"type":"rule","color":"#5a5a5a","strokeWidth":1},
"encoding":{
"x":{"field":"a","type":"temporal","scale":{"type":"utc","domain":[{"year":2008,"month":7,"date":12,"utc":true},{"year":2018,"month":6,"date":18,"utc":true}]},"axis":{"orient":"bottom","offset":12,"title":null,"labels":false,"ticks":false,"grid":false,"domainColor":"#c4c4c4","domainWidth":1}},
"x2":{"field":"b"},
"y":{"field":"pa","type":"quantitative","scale":{"domain":[1225.5,3456.6],"zero":false,"nice":false},"axis":{"orient":"left","title":null,"labels":false,"ticks":false,"grid":false,"domainColor":"#b4b4b4"}},
"y2":{"field":"pb"}
}},
{"data":{"name":"lb"},"transform":[{"filter":"datum.k == 'hi'"}],
"mark":{"type":"text","baseline":"bottom","dy":-2,"fontSize":6.5,"font":"Liberation Sans","color":"#E04848","clip":true},
"encoding":{
"x":{"field":"d","type":"temporal","scale":{"type":"utc","domain":[{"year":2008,"month":7,"date":12,"utc":true},{"year":2018,"month":6,"date":18,"utc":true}]},"axis":null},
"y":{"field":"p","type":"quantitative","scale":{"domain":[1225.5,3456.6],"zero":false,"nice":false},"axis":{"orient":"left","title":null,"labels":false,"ticks":false,"grid":false,"domainColor":"#b4b4b4"}},
"text":{"field":"t"}
}},
{"data":{"name":"lb"},"transform":[{"filter":"datum.k == 'lo'"}],
"mark":{"type":"text","baseline":"top","dy":3,"fontSize":6.5,"font":"Liberation Sans","color":"#3C9A3C"},
"encoding":{
"x":{"field":"d","type":"temporal","scale":{"type":"utc","domain":[{"year":2008,"month":7,"date":12,"utc":true},{"year":2018,"month":6,"date":18,"utc":true}]},"axis":null},
"y":{"field":"p","type":"quantitative","scale":{"domain":[1225.5,3456.6],"zero":false,"nice":false},"axis":{"orient":"left","title":null,"labels":false,"ticks":false,"grid":false,"domainColor":"#b4b4b4"}},
"text":{"field":"t"}
}},
{"data":{"name":"lb"},"transform":[{"filter":"datum.k == 'n'"}],
"mark":{"type":"text","baseline":"top","align":"left","dy":3,"dx":-1,"fontSize":6.5,"font":"Noto Sans CJK SC","color":"#2F3D9A"},
"encoding":{
"x":{"field":"d","type":"temporal","scale":{"type":"utc","domain":[{"year":2008,"month":7,"date":12,"utc":true},{"year":2018,"month":6,"date":18,"utc":true}]},"axis":null},
"y":{"field":"p","type":"quantitative","scale":{"domain":[1225.5,3456.6],"zero":false,"nice":false},"axis":{"orient":"left","title":null,"labels":false,"ticks":false,"grid":false,"domainColor":"#b4b4b4"}},
"text":{"field":"t"}
}}
]
}
